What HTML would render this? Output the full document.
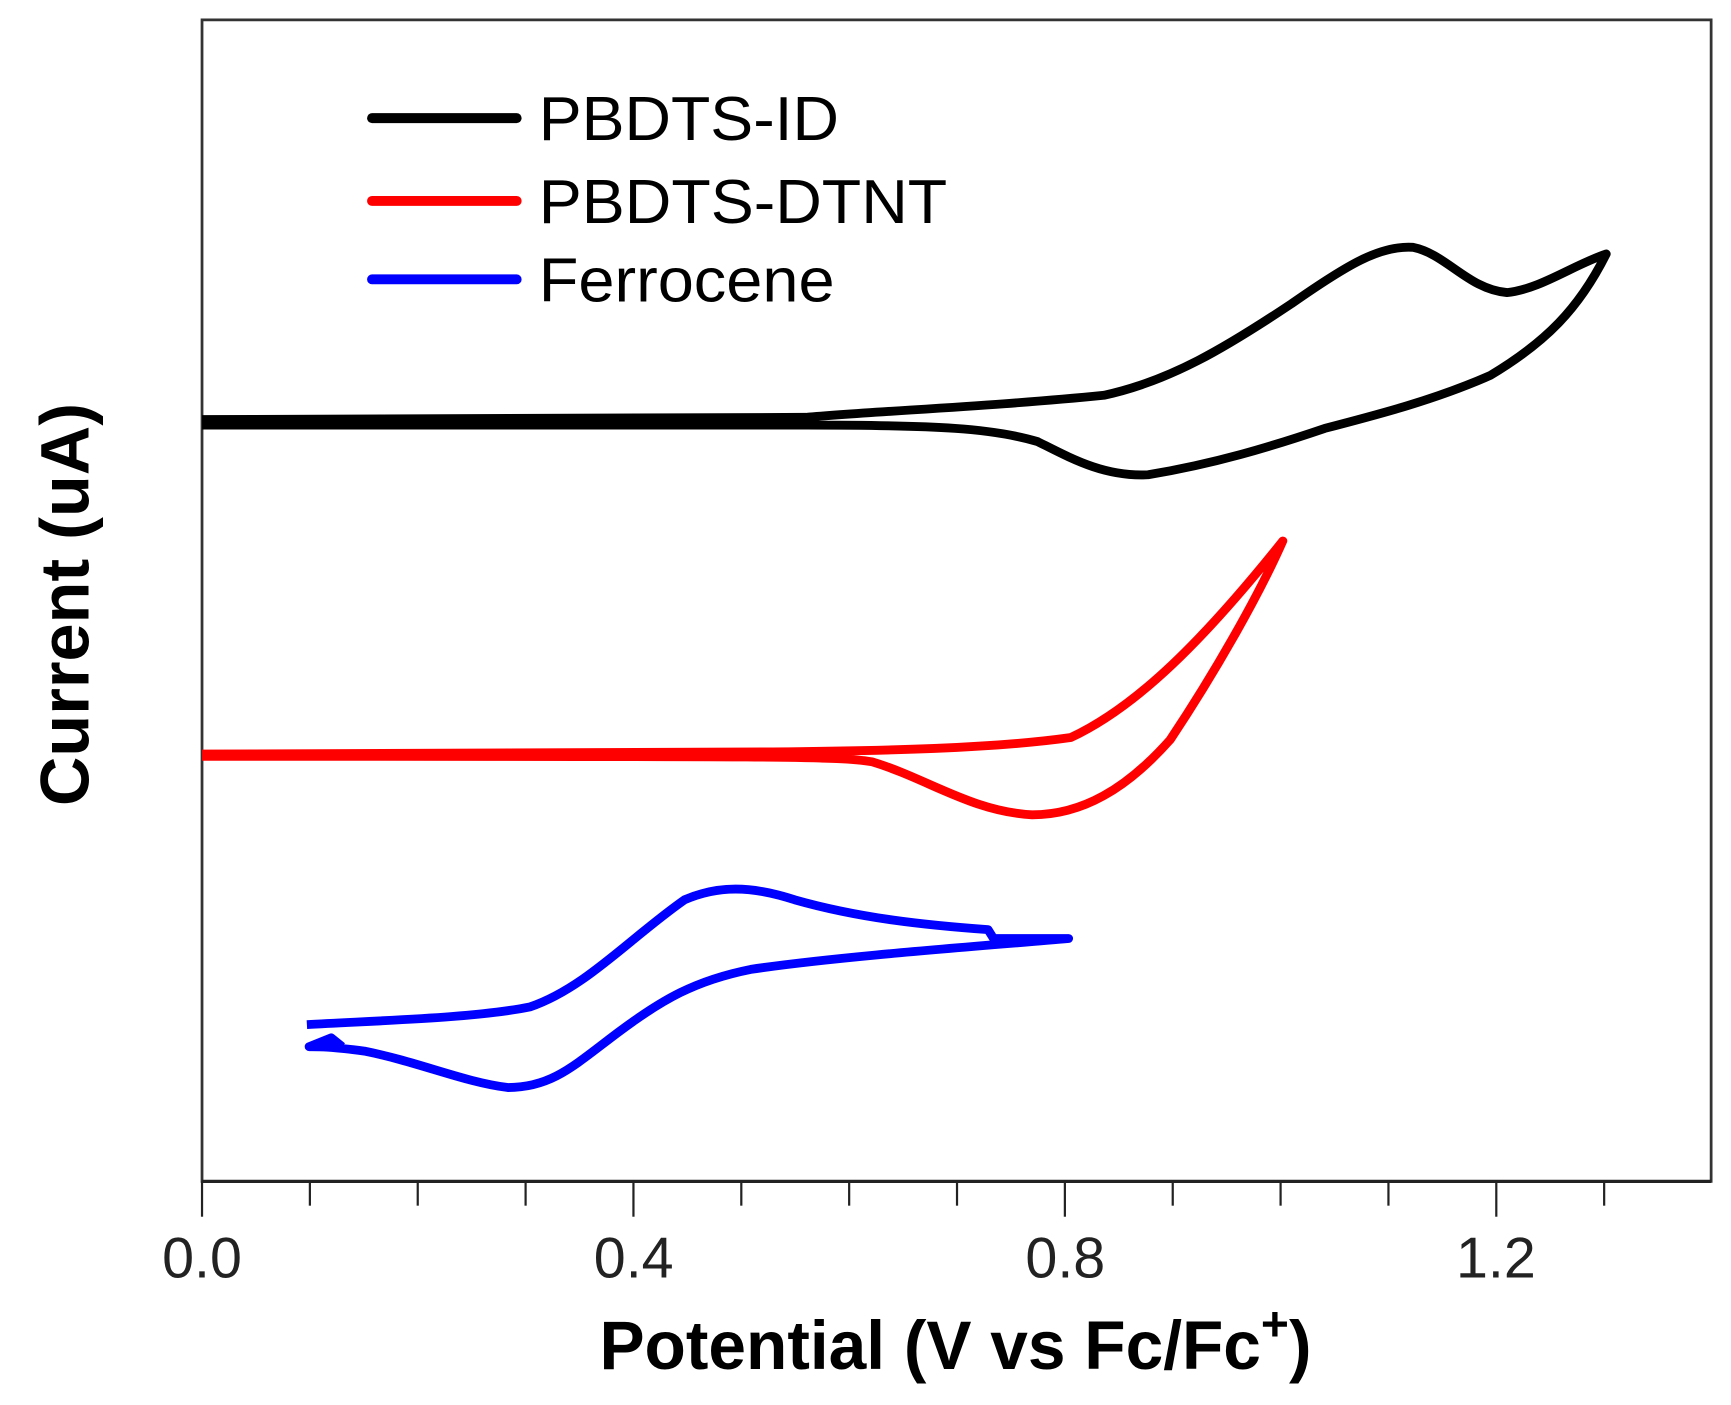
<!DOCTYPE html>
<html><head><style>html,body{margin:0;padding:0;background:#fff}</style></head>
<body>
<svg width="1731" height="1400" viewBox="0 0 1568 1268" preserveAspectRatio="none" xmlns="http://www.w3.org/2000/svg">
<rect width="1568" height="1268" fill="#fff"/>
<rect x="183" y="18" width="1367" height="1052" fill="none" stroke="#333" stroke-width="2.5"/>
<line x1="183" y1="1070" x2="1550" y2="1070" stroke="#222" stroke-width="3"/>
<g stroke="#222" stroke-width="2">
<line x1="183" y1="1070" x2="183" y2="1102"/><line x1="280.7" y1="1070" x2="280.7" y2="1092"/>
<line x1="378.4" y1="1070" x2="378.4" y2="1092"/><line x1="476.1" y1="1070" x2="476.1" y2="1092"/>
<line x1="573.8" y1="1070" x2="573.8" y2="1102"/><line x1="671.5" y1="1070" x2="671.5" y2="1092"/>
<line x1="769.2" y1="1070" x2="769.2" y2="1092"/><line x1="866.9" y1="1070" x2="866.9" y2="1092"/>
<line x1="964.6" y1="1070" x2="964.6" y2="1102"/><line x1="1062.3" y1="1070" x2="1062.3" y2="1092"/>
<line x1="1160" y1="1070" x2="1160" y2="1092"/><line x1="1257.7" y1="1070" x2="1257.7" y2="1092"/>
<line x1="1355.4" y1="1070" x2="1355.4" y2="1102"/><line x1="1453.1" y1="1070" x2="1453.1" y2="1092"/>
</g>
<g font-family="Liberation Sans, sans-serif" font-size="52" fill="#222" text-anchor="middle">
<text x="183" y="1157">0.0</text><text x="574" y="1157">0.4</text><text x="965" y="1157">0.8</text><text x="1355" y="1157">1.2</text>
</g>
<text x="543" y="1240" font-family="Liberation Sans, sans-serif" font-size="62" font-weight="bold" fill="#000" textLength="645" lengthAdjust="spacingAndGlyphs">Potential (V vs Fc/Fc<tspan dy="-26" font-size="44">+</tspan><tspan dy="26">)</tspan></text>
<text transform="translate(80,730) rotate(-90)" font-family="Liberation Sans, sans-serif" font-size="62" font-weight="bold" fill="#000" textLength="365" lengthAdjust="spacingAndGlyphs">Current (uA)</text>
<g stroke-width="9" stroke-linecap="round">
<line x1="337" y1="107" x2="468" y2="107" stroke="#000"/>
<line x1="337" y1="182" x2="468" y2="182" stroke="#f00"/>
<line x1="337" y1="253" x2="468" y2="253" stroke="#00f"/>
</g>
<g font-family="Liberation Sans, sans-serif" font-size="56" fill="#000">
<text x="488" y="127" textLength="272" lengthAdjust="spacingAndGlyphs">PBDTS-ID</text>
<text x="488" y="202" textLength="370" lengthAdjust="spacingAndGlyphs">PBDTS-DTNT</text>
<text x="488" y="273" textLength="268" lengthAdjust="spacingAndGlyphs">Ferrocene</text>
</g>
<g fill="none" stroke-width="8" stroke-linejoin="round">
<path stroke="#000" d="M183,380 L730,378 C800,372 900,368 1000,358 C1060,345 1110,315 1170,275 C1220,240 1250,222 1280,224 C1310,230 1330,262 1365,265 C1395,262 1425,240 1455,230 C1430,280 1400,310 1350,340 C1300,362 1250,375 1200,388 C1150,405 1100,420 1040,430 C1000,432 970,415 940,400 C900,388 850,385 730,385 L183,385"/>
<path stroke="#f00" d="M183,683 L700,681 C800,680 900,678 970,668 C1030,640 1090,580 1162,490 C1140,540 1100,610 1060,670 C1020,715 980,738 935,738 C880,735 840,705 790,690 C760,685 720,685 183,685"/>
<path stroke="#00f" d="M278,928 C350,924 430,922 480,912 C530,895 570,850 620,815 C650,802 680,802 720,815 C780,832 840,838 895,842 L900,850 L968,850 C900,856 760,866 680,878 C630,888 600,905 560,935 C520,965 500,985 460,985 C420,980 380,962 330,952 C300,948 290,948 280,948 L300,940 L310,948"/>
</g>
</svg>
</body></html>
